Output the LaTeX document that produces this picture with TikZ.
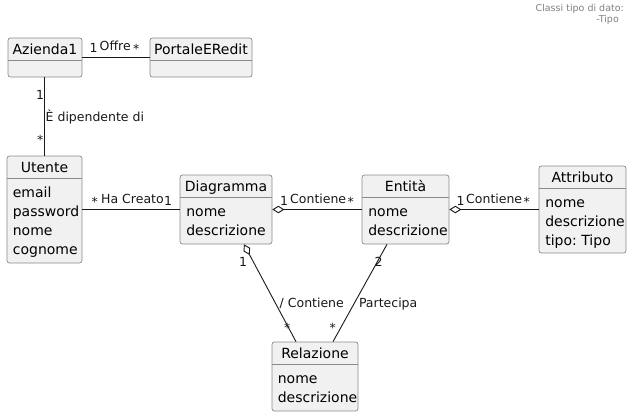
\documentclass[tikz,border=0pt]{standalone}
\usepackage{fontspec}
\setmainfont{DejaVu Sans}
\usetikzlibrary{arrows.meta}
\frenchspacing

\definecolor{umlfill}{HTML}{F1F1F1}
\definecolor{umlborder}{HTML}{8A8A8A}
\definecolor{umlline}{HTML}{181818}

\tikzset{
  classbox/.style={draw=umlborder, fill=umlfill, line width=0.7pt,
    rounded corners=2.5pt, inner sep=0pt},
  classsep/.style={draw=umlborder, line width=0.7pt},
  classname/.style={font=\fontsize{14}{16}\selectfont, anchor=base, inner sep=0pt},
  classattr/.style={font=\fontsize{14}{19}\selectfont, anchor=north west,
    align=left, inner sep=0pt},
  assoc/.style={draw=umlline, line width=0.9pt},
  aggr/.style={assoc, {Diamond[open, length=12pt, width=7.5pt]}-},
  assoclabel/.style={font=\fontsize{12.5}{15}\selectfont, anchor=base west,
    inner sep=0pt, text=umlline},
  notelabel/.style={font=\fontsize{9.5}{11}\selectfont, anchor=base east,
    inner sep=0pt, text=gray},
}

\begin{document}
\begin{tikzpicture}[x=1pt, y=-1pt]
   % Sizes
   \pgfmathsetmacro{\headh}{23}
   \pgfmathsetmacro{\namey}{16.5}
   \pgfmathsetmacro{\attry}{\headh+5.7}
   \useasboundingbox (0,0) rectangle (633,418);

   % classes
   \node[classbox, minimum width=74pt, minimum height=39pt] (azienda) at (45,57.5) {};
   \node[classbox, minimum width=102pt, minimum height=39pt] (portale) at (201,57.5) {};
   \node[classbox, minimum width=75pt, minimum height=107pt] (utente) at (44.5,209.5) {};
   \node[classbox, minimum width=92pt, minimum height=69pt] (diag) at (226,209.5) {};
   \node[classbox, minimum width=87pt, minimum height=69pt] (entita) at (405.5,209.5) {};
   \node[classbox, minimum width=87pt, minimum height=87pt] (attr) at (582.5,209.5) {};
   \node[classbox, minimum width=86pt, minimum height=69pt] (rel) at (315,376.5) {};

   % separators
   \foreach \c in {azienda, portale, utente, diag, entita, attr, rel}
     \draw[classsep] ([yshift=-\headh pt]\c.north west) -- ([yshift=-\headh pt]\c.north east);

   % names
   \node[classname] (azienda-n) at ([yshift=-\namey pt]azienda.north) {Azienda1};
   \node[classname] (portale-n) at ([yshift=-\namey pt]portale.north) {PortaleERedit};
   \node[classname] (utente-n) at ([yshift=-\namey pt]utente.north) {Utente};
   \node[classname] (diag-n) at ([yshift=-\namey pt]diag.north) {Diagramma};
   \node[classname] (entita-n) at ([yshift=-\namey pt]entita.north) {Entità};
   \node[classname] (attr-n) at ([yshift=-\namey pt]attr.north) {Attributo};
   \node[classname] (rel-n) at ([yshift=-\namey pt]rel.north) {Relazione};

   % attributes
   \node[classattr] (utente-a) at ([xshift=6pt, yshift=-\attry pt]utente.north west)
     {\strut email\\\strut password\\\strut nome\\\strut cognome};
   \node[classattr] (diag-a) at ([xshift=6.5pt, yshift=-\attry pt]diag.north west)
     {\strut nome\\\strut descrizione};
   \node[classattr] (entita-a) at ([xshift=6.5pt, yshift=-\attry pt]entita.north west)
     {\strut nome\\\strut descrizione};
   \node[classattr] (attr-a) at ([xshift=6.5pt, yshift=-\attry pt]attr.north west)
     {\strut nome\\\strut descrizione\\\strut tipo: Tipo};
   \node[classattr] (rel-a) at ([xshift=6pt, yshift=-\attry pt]rel.north west)
     {\strut nome\\\strut descrizione};

   % associations
   \draw[assoc] (azienda.east) -- (portale.west);
   \draw[assoc] ([xshift=-1pt]azienda.south) -- ([xshift=-0.5pt]utente.north);
   \draw[assoc] (utente.east) -- (diag.west);
   \draw[aggr] (diag.east) -- (entita.west);
   \draw[aggr] (entita.east) -- (attr.west);
   \draw[aggr] ([xshift=18pt]diag.south) -- ([xshift=-19pt]rel.north);
   \draw[assoc] ([xshift=-18.5pt]entita.south) -- ([xshift=18pt]rel.north);

   % labels
   \node[assoclabel] (offre-a) at (89.5,52.7) {1};
   \node[assoclabel] (offre) at (99.5,50) {Offre};
   \node[assoclabel] (offre-b) at (133,53) {*};

   \node[assoclabel] (dip-a) at (36,99.3) {1};
   \node[assoclabel] (dip) at (45.5,121.7) {È dipendente di};
   \node[assoclabel] (dip-b) at (37,144.5) {*};

   \node[assoclabel] (creato-a) at (91.5,206) {*};
   \node[assoclabel] (creato) at (101,203.3) {Ha Creato};
   \node[assoclabel] (creato-b) at (163.8,205) {1};

   \node[assoclabel] (cont1-a) at (279.8,205) {1};
   \node[assoclabel] (cont1) at (290,203.3) {Contiene};
   \node[assoclabel] (cont1-b) at (347.5,206) {*};

   \node[assoclabel] (cont2-a) at (456.5,205) {1};
   \node[assoclabel] (cont2) at (466,203.3) {Contiene};
   \node[assoclabel] (cont2-b) at (523.5,206) {*};

   \node[assoclabel] (cont3-a) at (238.8,266.7) {1};
   \node[assoclabel] (cont3) at (279.5,307.7) {/ Contiene};
   \node[assoclabel] (cont3-b) at (284,332) {*};

   \node[assoclabel] (part-a) at (374.5,266.7) {2};
   \node[assoclabel] (part) at (358.8,307.7) {Partecipa};
   \node[assoclabel] (part-b) at (329.5,332) {*};

   % note
   \node[notelabel] (note1) at (624,11) {Classi tipo di dato:};
   \node[notelabel] (note2) at (619,22) {-Tipo};
\end{tikzpicture}
\end{document}
